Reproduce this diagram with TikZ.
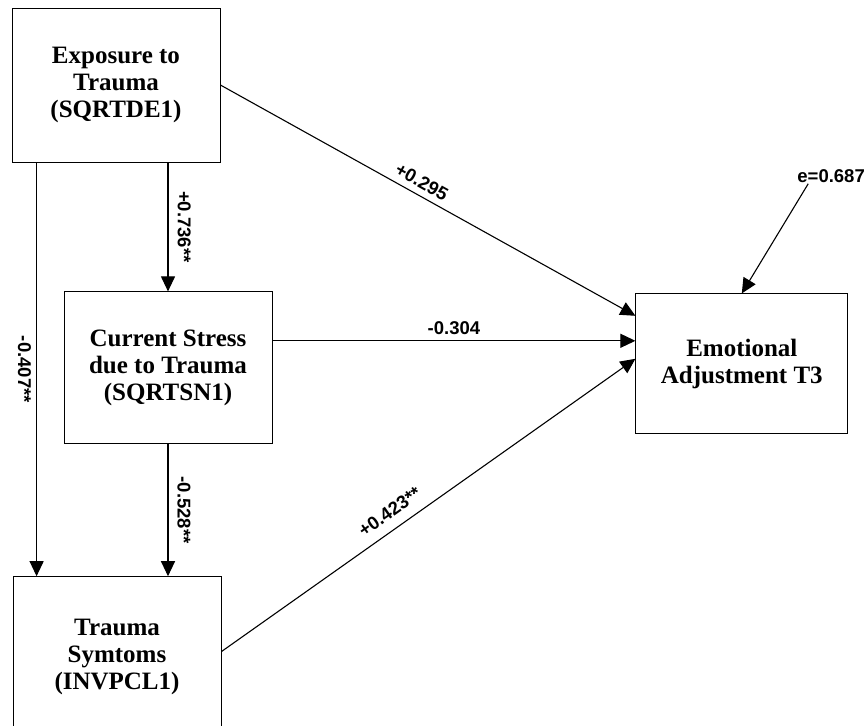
\documentclass[tikz,border=0pt]{standalone}
\usepackage{fontspec}
\setmainfont{Liberation Serif}
\newfontfamily\coeffont{Liberation Sans}
\usetikzlibrary{positioning,arrows.meta}

\begin{document}
\begin{tikzpicture}[
  x=1pt, y=1pt,
  block/.style={rectangle, draw, line width=0.8pt, minimum width=208pt, minimum height=152pt, align=center, font=\fontsize{25}{27}\selectfont\bfseries},
  link/.style={-{Triangle[length=15pt,width=14pt]}, line width=1.1pt},
  coef/.style={font=\coeffont\bfseries\fontsize{18.5}{20}\selectfont, inner sep=6pt}
]
\useasboundingbox (0,0) rectangle (866,-725);

% Blocks
\node[block, minimum height=154pt] (expo) at (116,-85) {Exposure to\\Trauma\\(SQRTDE1)};
\node[block, below=129pt of expo, xshift=52pt] (stress) {Current Stress\\due to Trauma\\(SQRTSN1)};
\node[block, below=132pt of stress, xshift=-51pt, minimum height=160pt] (symp) {Trauma\\Symtoms\\(INVPCL1)};
\node[block, right=363pt of stress, yshift=4pt, minimum width=212pt, minimum height=140pt] (adjust) {Emotional\\Adjustment T3};
\node[coef, anchor=east, inner sep=1pt] (err) at (866,-176) {e=0.687};

% Helper for the left arrow
\coordinate (xl) at ([xshift=25pt]expo.south west);

% Arrows
\draw[link] (stress.north |- expo.south) -- (stress.north) node[coef, midway, sloped, above, inner sep=9pt] {+0.736**};
\draw[link] (xl) -- (xl |- symp.north) node[coef, midway, sloped, below, inner sep=5pt] {-0.407**};
\draw[link] (stress.south) -- (stress.south |- symp.north) node[coef, midway, sloped, above, inner sep=9pt] {-0.528**};
\draw[link] (expo.east) -- ([yshift=48pt]adjust.west) node[coef, pos=0.47, sloped, above] {+0.295};
\draw[link] ([yshift=27pt]stress.east) -- ([yshift=23pt]adjust.west) node[coef, midway, above] {-0.304};
\draw[link] ([yshift=5pt]symp.east) -- ([yshift=5pt]adjust.west) node[coef, pos=0.43, sloped, above, inner sep=10pt] {+0.423**};
\draw[link] ([xshift=12pt]err.south west) -- (adjust.north);

\end{tikzpicture}
\end{document}
